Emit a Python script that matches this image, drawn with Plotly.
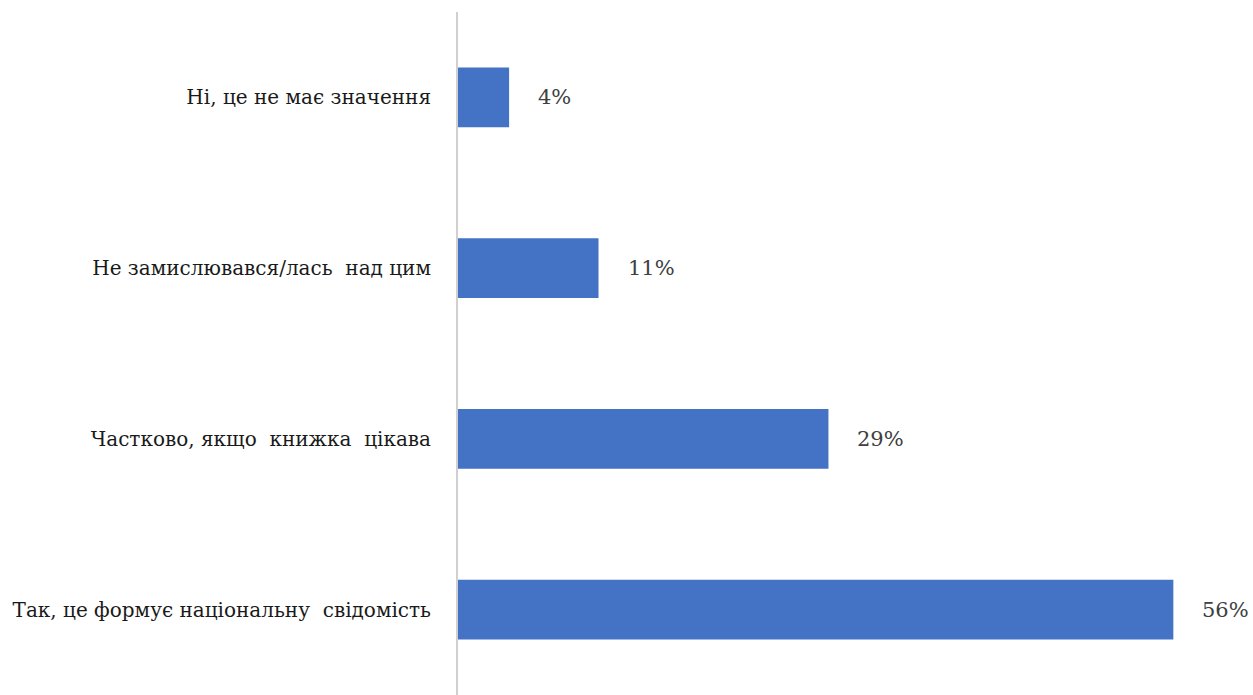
import plotly.graph_objects as go

# Survey answers, bottom to top as drawn
categories = [
    "Так, це формує національну  свідомість",
    "Частково, якщо  книжка  цікава",
    "Не замислювався/лась  над цим",
    "Ні, це не має значення",
]
values = [56, 29, 11, 4]
value_labels = [f"{v}%" for v in values]

bar_color = "#4472C4"
serif = "DejaVu Serif"

fig = go.Figure(
    go.Bar(
        x=values,
        y=categories,
        orientation="h",
        marker=dict(color=bar_color, line=dict(width=0)),
        hoverinfo="skip",
    )
)

# Percentage labels placed to the right of each bar
for cat, v, lab in zip(categories, values, value_labels):
    fig.add_annotation(
        x=v, y=cat, text=lab, showarrow=False,
        xanchor="left", yanchor="middle", xshift=27,
        font=dict(family=serif, size=21, color="#404040"),
    )

fig.update_layout(
    width=1253, height=695,
    margin=dict(l=458, r=3, t=12, b=0),
    paper_bgcolor="white", plot_bgcolor="white",
    bargap=0.65,
    showlegend=False,
    font=dict(family=serif, size=20, color="#1a1a1a"),
)
fig.update_xaxes(
    range=[0, 62], visible=False, showgrid=False, zeroline=False,
)
fig.update_yaxes(
    showgrid=False, zeroline=False,
    showline=True, linecolor="#d0d0d0", linewidth=2,
    ticks="", ticklabelstandoff=21,
    tickfont=dict(family=serif, size=20, color="#1a1a1a"),
)

fig.write_html("out.html")
